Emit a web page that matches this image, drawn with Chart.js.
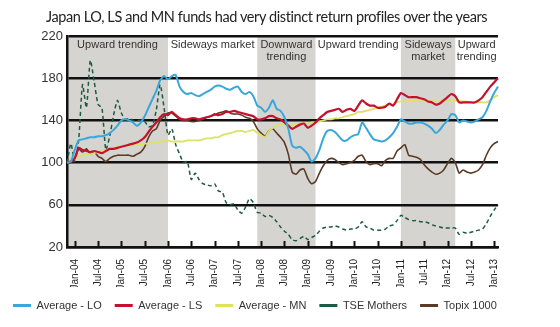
<!DOCTYPE html>
<html>
<head>
<meta charset="utf-8">
<script src="https://cdn.jsdelivr.net/npm/chart.js@4.4.1/dist/chart.umd.min.js"></script>
<style>
    html, body { margin: 0; padding: 0; background: #fff; }
    #wrap { position: relative; width: 560px; height: 327px; }
    #title {
        position: absolute; left: 46px; top: 8px;
        font: 14.5px Lato, sans-serif; letter-spacing: -0.4px; color: #222; white-space: nowrap;
    }
</style>
</head>
<body>
<div id="wrap">
    <div id="title">Japan LO, LS and MN funds had very distinct return profiles over the years</div>
    <canvas id="chart"></canvas>
</div>
<script>
// Monthly categories, Nov-03 .. Feb-13
const monthNames = ['Jan', 'Feb', 'Mar', 'Apr', 'May', 'Jun', 'Jul', 'Aug', 'Sep', 'Oct', 'Nov', 'Dec'];
const months = [];
for (let k = 0; k < 112; k++) {
    const m = (10 + k) % 12;
    const y = 3 + Math.floor((10 + k) / 12);
    months.push(monthNames[m] + '-' + String(y).padStart(2, '0'));
}

// Index values (rows: Nov/Dec-03, then one row per year, then Jan/Feb-13)
const avgLO = [
    100, 101,
    112, 121, 122, 123, 124, 124, 125, 125, 126, 128, 131, 135,
    140, 141, 140, 138, 135, 138, 144, 152, 160, 168, 178, 182,
    179, 182, 183, 172, 167, 165, 166, 164, 163, 165, 167, 169,
    172, 173, 172, 170, 169, 171, 172, 167, 165, 167, 163, 154,
    152, 148, 152, 159, 151, 149, 143, 132, 116, 114, 115, 112,
    108, 101, 104, 112, 123, 130, 131, 129, 125, 121, 121, 124,
    126, 127, 138, 133, 127, 122, 121, 120, 121, 124, 128, 134,
    141, 139, 137, 137, 138, 138, 137, 135, 132, 128, 131, 136,
    140, 146, 145, 138, 140, 139, 138, 139, 141, 143, 149, 158,
    166, 172
];
const avgLS = [
    100, 101,
    104, 114, 112, 111, 110, 111, 110, 109, 111, 113, 113, 114,
    115, 116, 117, 118, 119, 121, 124, 129, 134, 138, 143, 146,
    145, 148, 145, 142, 141, 141, 142, 142, 141, 142, 143, 144,
    146, 145, 146, 148, 148, 149, 148, 147, 146, 145, 144, 141,
    141, 142, 144, 144, 142, 141, 138, 135, 132, 134, 136, 137,
    133, 135, 138, 142, 145, 148, 149, 150, 151, 148, 150, 151,
    149, 154, 159, 156, 154, 154, 152, 152, 153, 156, 154, 160,
    166, 164, 162, 162, 162, 161, 160, 158, 157, 155, 156, 159,
    162, 165, 163, 157, 157, 157, 157, 157, 159, 162, 167, 172,
    176, 180
];
const avgMN = [
    100, 101,
    104, 106, 107, 108, 108, 109, 110, 111, 112, 113, 114, 115,
    115, 116, 116, 117, 117, 117, 118, 118, 119, 119, 120, 120,
    121, 120, 120, 120, 120, 121, 121, 121, 121, 122, 123, 123,
    124, 124, 126, 127, 128, 129, 130, 130, 129, 130, 131, 128,
    126, 124, 130, 133, 135, 137, 136, 135, 135, 136, 137, 137,
    137, 138, 138, 139, 140, 141, 141, 142, 142, 143, 144, 145,
    146, 148, 148, 149, 150, 151, 152, 153, 154, 155, 155, 157,
    158, 158, 159, 159, 159, 158, 159, 159, 158, 158, 158, 159,
    159, 159, 159, 158, 158, 158, 157, 157, 157, 157, 157, 159,
    162, 164
];
const tseMothers = [
    100, 118,
    101, 121, 174, 152, 197, 177, 155, 152, 112, 125, 145, 159,
    147, 141, 142, 140, 140, 140, 139, 134, 135, 150, 174, 152,
    126, 132, 117, 108, 100, 101, 84, 90, 84, 80, 79, 78,
    80, 73, 72, 62, 60, 61, 55, 52, 58, 66, 62, 53,
    52, 49, 50, 48, 44, 39, 35, 32, 27, 26, 28, 30,
    27, 29, 31, 35, 38, 39, 39, 40, 39, 37, 36, 37,
    37, 39, 44, 39, 38, 36, 36, 36, 37, 40, 41, 45,
    50, 48, 46, 45, 45, 44, 44, 43, 41, 40, 39, 38,
    38, 38, 38, 32, 34, 33, 34, 35, 36, 37, 42, 49,
    55, 60
];
const topix1000 = [
    100, 100,
    104, 113, 110, 113, 108, 110, 106, 104, 101, 104, 106, 107,
    107, 107, 107, 106, 108, 110, 115, 124, 130, 132, 140, 144,
    147, 147, 144, 141, 140, 140, 139, 139, 140, 141, 143, 144,
    145, 147, 148, 149, 147, 146, 146, 145, 143, 142, 139, 132,
    128, 125, 130, 132, 128, 124, 119, 108, 91, 89, 93, 94,
    85, 80, 82, 90, 97, 102, 104, 103, 100, 98, 99, 100,
    102, 106, 107, 101, 98, 99, 99, 97, 102, 104, 104, 111,
    114, 117, 107, 106, 105, 103, 98, 94, 91, 89, 90, 93,
    99, 104, 100, 90, 93, 91, 90, 91, 93, 98, 107, 114,
    118, 120
];

// Market phases: boundaries as category indices
const phaseBounds = [0, 26, 49, 64, 86, 100, 111];
const phaseLabels = ['Upward trending', 'Sideways market', 'Downward\ntrending',
    'Upward trending', 'Sideways\nmarket', 'Upward\ntrending'];
const phaseShaded = [true, false, true, false, true, false];

const yTicks = [20, 60, 100, 140, 180, 220];

const FONT = "'Liberation Sans', Arial, Helvetica, sans-serif";

/**
 * Shaded phases, inward tick marks and phase captions
 */
const phasePlugin = {
    id: 'phases',
    beforeDraw(chart) {
        const { ctx, chartArea, scales: { x } } = chart;
        ctx.save();
        ctx.fillStyle = '#d5d4d0';
        phaseShaded.forEach((shaded, k) => {
            if (!shaded) return;
            const x0 = x.getPixelForValue(phaseBounds[k]);
            const x1 = x.getPixelForValue(phaseBounds[k + 1]);
            ctx.fillRect(x0, chartArea.top, x1 - x0, chartArea.bottom - chartArea.top);
        });
        ctx.restore();
    },
    afterDatasetsDraw(chart) {
        const { ctx, chartArea, scales: { x } } = chart;
        ctx.save();

        // tick marks pointing into the plot
        ctx.strokeStyle = '#111';
        ctx.lineWidth = 2;
        months.forEach((label, i) => {
            if (!(label.startsWith('Jan') || label.startsWith('Jul'))) return;
            const px = Math.round(x.getPixelForValue(i)) + 0.5;
            ctx.beginPath();
            ctx.moveTo(px, chartArea.bottom);
            ctx.lineTo(px, chartArea.bottom - 6);
            ctx.stroke();
        });

        // phase captions
        ctx.fillStyle = '#333';
        ctx.font = '11px ' + FONT;
        ctx.textAlign = 'center';
        ctx.textBaseline = 'middle';
        phaseLabels.forEach((text, k) => {
            const cx = (x.getPixelForValue(phaseBounds[k]) + x.getPixelForValue(phaseBounds[k + 1])) / 2;
            text.split('\n').forEach((line, j) => {
                ctx.fillText(line, cx, chartArea.top + 9 + j * 12);
            });
        });
        ctx.restore();
    }
};

const series = [
    { label: 'Average - LO', data: avgLO, color: '#3aa7da', width: 2 },
    { label: 'Average - LS', data: avgLS, color: '#c3112f', width: 2.2 },
    { label: 'Average - MN', data: avgMN, color: '#dde264', width: 1.8 },
    { label: 'TSE Mothers', data: tseMothers, color: '#1d5a44', width: 1.5, dash: [4, 3] },
    { label: 'Topix 1000', data: topix1000, color: '#5b3a26', width: 1.6 }
];

const ctx = document.getElementById('chart');

new Chart(ctx, {
    type: 'line',
    data: {
        labels: months,
        datasets: series.map(s => ({
            label: s.label,
            data: s.data,
            borderColor: s.color,
            backgroundColor: s.color,
            borderWidth: s.width,
            borderDash: s.dash || [],
            pointRadius: 0,
            tension: 0.2,
            fill: false
        }))
    },
    options: {
        responsive: true,
        maintainAspectRatio: false,
        animation: false,
        layout: {
            padding: { top: 36, right: 0, bottom: 6, left: 0 }
        },
        plugins: {
            title: { display: false },
            tooltip: { enabled: false },
            legend: {
                position: 'bottom',
                align: 'start',
                labels: {
                    boxWidth: 18,
                    boxHeight: 3,
                    padding: 13,
                    color: '#333',
                    font: { size: 11, family: FONT },
                    generateLabels(chart) {
                        const items = Chart.defaults.plugins.legend.labels.generateLabels(chart);
                        items.forEach(item => {
                            item.fillStyle = item.strokeStyle;
                            item.lineWidth = 0;
                            item.lineDash = [];
                        });
                        return items;
                    }
                }
            }
        },
        scales: {
            x: {
                afterFit(scale) { scale.height = 40; },
                grid: { display: false },
                border: { display: true, color: '#111', width: 2.5 },
                ticks: {
                    autoSkip: false,
                    maxRotation: 90,
                    minRotation: 90,
                    padding: 4,
                    color: '#222',
                    font: { size: 10, family: FONT },
                    callback: function(value) {
                        const label = this.getLabelForValue(value);
                        return (label.startsWith('Jan') || label.startsWith('Jul')) ? label : null;
                    }
                }
            },
            y: {
                min: 20,
                max: 220,
                afterFit(scale) { scale.width = 67; },
                afterBuildTicks(scale) { scale.ticks = yTicks.map(v => ({ value: v })); },
                grid: { color: '#111', lineWidth: 2.5, drawTicks: false },
                border: { display: true, color: '#111', width: 2.5 },
                ticks: {
                    padding: 4,
                    color: '#333',
                    font: { size: 13, family: FONT }
                }
            },
            // empty right-hand gutter, keeps the plot clear of the canvas edge
            gutter: {
                position: 'right',
                afterFit(scale) { scale.width = 62; },
                grid: { display: false },
                border: { display: false },
                ticks: { display: false }
            }
        }
    },
    plugins: [phasePlugin]
});
</script>
</body>
</html>
